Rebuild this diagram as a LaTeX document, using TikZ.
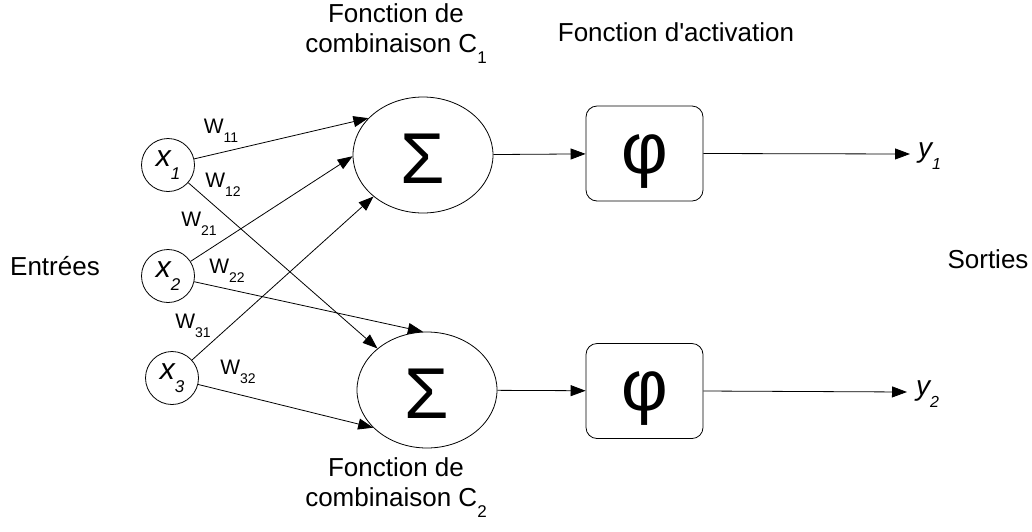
\documentclass[tikz,border=0pt]{standalone}
\usepackage{fontspec}
\setmainfont{Liberation Sans}
\usetikzlibrary{arrows.meta,shapes.geometric}
\newcommand\mysub[2][13]{\raisebox{-0.42em}{\fontsize{#1}{#1}\selectfont #2}}
\newcommand\mydown[2]{\raisebox{-#1}[\height][\depth]{#2}}
\begin{document}
\begin{tikzpicture}[x=1pt,y=-1pt,
  inp/.style={circle,draw,line width=0.8pt,minimum size=53pt,inner sep=0pt,font=\fontsize{30}{30}\selectfont\itshape},
  sum/.style={ellipse,draw,line width=0.8pt,minimum width=140pt,minimum height=116pt,inner sep=0pt,font=\fontsize{72}{72}\selectfont},
  act/.style={rectangle,draw,line width=0.8pt,rounded corners=11pt,minimum width=117pt,minimum height=95pt,inner sep=0pt,font=\fontsize{72}{72}\selectfont},
  arr/.style={-{Triangle[length=15pt,width=11pt]},line width=0.8pt},
  lbl/.style={font=\fontsize{26}{30}\selectfont,align=center,inner sep=0pt},
  wl/.style={font=\fontsize{21}{21}\selectfont,inner sep=0pt},
  outl/.style={font=\fontsize{28}{28}\selectfont\itshape,inner sep=0pt}]
\useasboundingbox (0,0) rectangle (1032,531);

% input neurons
\node[inp] (x1) at (168,165) {x\mysub[17]{1}};
\node[inp] (x2) at (168,276) {x\mysub[17]{2}};
\node[inp] (x3) at (172,378) {x\mysub[17]{3}};

% combination functions
\node[sum] (S1) at (423,155) {\mydown{4pt}{Σ}};
\node[sum] (S2) at (427,390) {\mydown{4pt}{Σ}};

% activation functions
\node[act] (P1) at (644.5,153.5) {\mydown{8pt}{φ}};
\node[act] (P2) at (644.5,391) {\mydown{8pt}{φ}};

% outputs
\coordinate (o1) at (910,154);
\coordinate (o2) at (907,392);
\node[outl,anchor=west] (y1) at (918,156) {y\mysub[16]{\itshape 1}};
\node[outl,anchor=west] (y2) at (916,394) {y\mysub[16]{\itshape 2}};

% connectors
\draw[arr] (x1) -- (S1.146);
\draw[arr] (x2) -- (S1.181);
\draw[arr] (x3) -- (S1.220);
\draw[arr] (x1) -- (S2.140);
\draw[arr] (x2) -- (S2.94);
\draw[arr] (x3) -- (S2.215);
\draw[arr] (S1) -- (P1);
\draw[arr] (S2) -- (P2);
\draw[arr] (P1.east) -- (o1);
\draw[arr] (P2.east) -- (o2);

% weights
\node[wl] (w11) at (221,131) {W\mysub[14]{11}};
\node[wl] (w12) at (223,185) {W\mysub[14]{12}};
\node[wl] (w21) at (199,224) {W\mysub[14]{21}};
\node[wl] (w22) at (227,271) {W\mysub[14]{22}};
\node[wl] (w31) at (193,326) {W\mysub[14]{31}};
\node[wl] (w32) at (238,372) {W\mysub[14]{32}};

% texts
\node[lbl] (c1) at (396,34) {Fonction de\\combinaison C\mysub[17]{1}};
\node[lbl] (fa) at (676,32) {Fonction d\textquotesingle activation};
\node[lbl] (c2) at (396,488) {Fonction de\\combinaison C\mysub[17]{2}};
\node[lbl] (ent) at (55,266) {Entrées};
\node[lbl] (sor) at (988,259) {Sorties};
\end{tikzpicture}
\end{document}
